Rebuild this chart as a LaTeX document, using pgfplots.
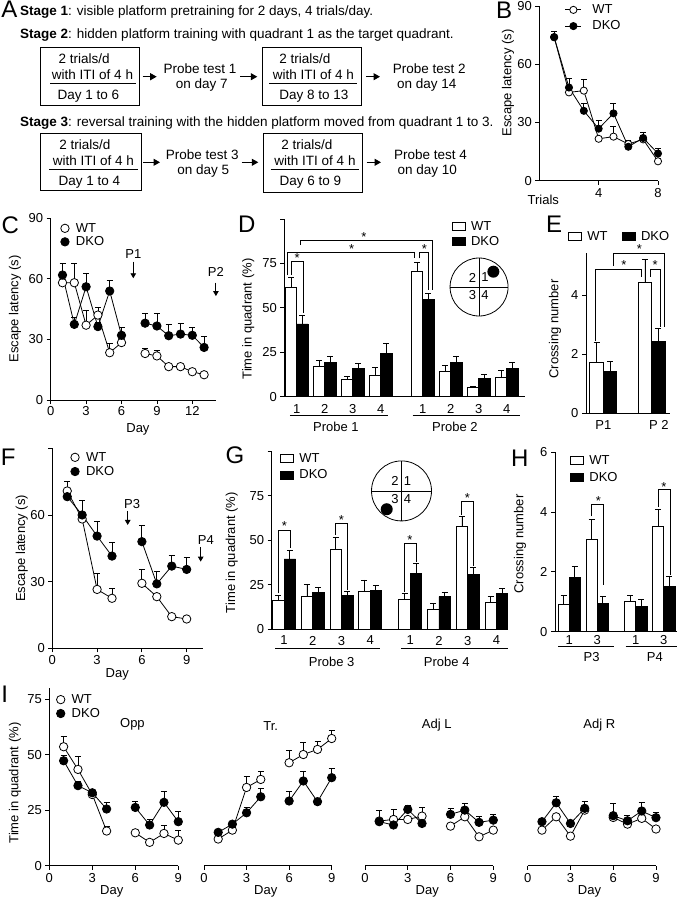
\documentclass[border=0pt]{standalone}
\usepackage{fontspec}
\setmainfont{Liberation Sans}
\usepackage{pgfplots}
\usepackage{pgfplotstable}
\pgfplotsset{compat=1.18}
\usetikzlibrary{arrows.meta}
\newcommand{\fs}[1]{\fontsize{#1}{#1}\selectfont}

% ---- data ----
\pgfplotstableread[row sep=\\]{x y e\\ 1 73.9 0\\ 2 45.5 1\\ 3 46.4 5.6\\ 4 21.6 1\\ 5 22.7 5.1\\ 6 18.9 2.1\\ 7 21.3 2\\ 8 10 1.5\\}\tBwt
\pgfplotstableread[row sep=\\]{x y e\\ 1 74 3\\ 2 48 4.5\\ 3 36 4\\ 4 26.8 4.2\\ 5 34.7 5.1\\ 6 17.5 3\\ 7 22 3\\ 8 14 2.5\\}\tBdko
\pgfplotstableread[row sep=\\]{x y e\\ 1 58 1\\ 2 58 9.6\\ 3 37 7.5\\ 4 42 4\\ 5 23.4 4.6\\ 6 28.4 1\\ 7 nan 0\\ 8 23 2.5\\ 9 21.8 2.9\\ 10 16.5 1\\ 11 16.5 1\\ 12 14 1\\ 13 12.5 1\\}\tCwt
\pgfplotstableread[row sep=\\]{x y e\\ 1 61.8 5.8\\ 2 37.4 3.6\\ 3 56 6.6\\ 4 36.3 2\\ 5 53.9 5.4\\ 6 32 4\\ 7 nan 0\\ 8 38 4.8\\ 9 36.6 6.4\\ 10 31.8 5.8\\ 11 32.6 5.4\\ 12 32 3.8\\ 13 26 5.3\\}\tCdko
\pgfplotstableread[row sep=\\]{x y e\\ 1 70.8 4.2\\ 2 58.2 1\\ 3 26.5 7.2\\ 4 22.5 4.5\\ 5 nan 0\\ 6 29.25 6.25\\ 7 23.25 1.5\\ 8 14.25 1\\ 9 13.2 1\\}\tFwt
\pgfplotstableread[row sep=\\]{x y e\\ 1 68.25 3.75\\ 2 60 6.5\\ 3 50.5 6.5\\ 4 41.5 6\\ 5 nan 0\\ 6 48 7.5\\ 7 29 5.5\\ 8 37 5\\ 9 35.5 5.3\\}\tFdko
\pgfplotstableread[row sep=\\]{x y e\\ 1 53.5 4.5\\ 2 43.3 5.7\\ 3 32 1\\ 4 15.6 2.2\\ 5 nan 0\\ 6 14.8 1\\ 7 10.5 1.5\\ 8 14.5 3.8\\ 9 11.5 4.2\\}\tIoppwt
\pgfplotstableread[row sep=\\]{x y e\\ 1 47.2 2.6\\ 2 36 1.8\\ 3 32.8 1.7\\ 4 25.5 3\\ 5 nan 0\\ 6 26.2 2.6\\ 7 18.3 2.7\\ 8 28.5 4.8\\ 9 19.8 4.5\\}\tIoppdko
\pgfplotstableread[row sep=\\]{x y e\\ 1 12 0.5\\ 2 16 0.5\\ 3 35.2 4.8\\ 4 38.8 3.4\\ 5 nan 0\\ 6 46.3 5.7\\ 7 50 5.3\\ 8 52.3 3.4\\ 9 57.2 3.8\\}\tItrwt
\pgfplotstableread[row sep=\\]{x y e\\ 1 15 0.5\\ 2 18.7 1\\ 3 23.8 2.4\\ 4 31 3.8\\ 5 nan 0\\ 6 29.1 4.5\\ 7 38.1 4.2\\ 8 28.8 1\\ 9 39.6 4.2\\}\tItrdko
\pgfplotstableread[row sep=\\]{x y e\\ 1 20.1 1\\ 2 20.8 4.5\\ 3 20.8 1\\ 4 22.3 3.9\\ 5 nan 0\\ 6 17.8 1\\ 7 22 1\\ 8 13 1\\ 9 16 1\\}\tIalwt
\pgfplotstableread[row sep=\\]{x y e\\ 1 19.8 4.9\\ 2 18.3 1\\ 3 25.3 2\\ 4 19 1\\ 5 nan 0\\ 6 23.1 2.7\\ 7 25 3\\ 8 19.5 2.8\\ 9 20.5 2.6\\}\tIaldko
\pgfplotstableread[row sep=\\]{x y e\\ 1 16 1\\ 2 22 1\\ 3 13.3 1\\ 4 25 1\\ 5 nan 0\\ 6 21.7 1\\ 7 18.7 1\\ 8 21.3 1\\ 9 16.5 1\\}\tIarwt
\pgfplotstableread[row sep=\\]{x y e\\ 1 19.8 1\\ 2 28.3 3\\ 3 19 1\\ 4 25.8 3\\ 5 nan 0\\ 6 22.5 5.5\\ 7 20.2 2.6\\ 8 24.6 3.7\\ 9 21.6 2.2\\}\tIardko

\tikzset{lbl/.style={font=\fs{13}, inner sep=0pt},
  lw/.style={line width=0.8pt},
  parrow/.style={-{Triangle[length=5pt,width=5.5pt]}, line width=0.9pt},
  barrow/.style={-{Triangle[length=6.5pt,width=7pt]}, line width=1.1pt}}

\pgfplotsset{
  base/.style={scale only axis, anchor=south west, enlargelimits=false, clip=false,
    axis line style={line width=0.8pt, black},
    tick style={line width=0.8pt, black},
    tick align=outside, major tick length=4pt,
    tick label style={font=\fs{13}}, label style={font=\fs{13}},
    /pgf/number format/assume math mode=true,
    unbounded coords=jump,
    legend cell align=left,
    legend style={draw=none, fill=none, font=\fs{13}, inner sep=0pt, outer sep=0pt, anchor=north west, nodes={inner sep=0pt}},
  },
  lax/.style={base, axis lines*=left},
  bax/.style={base, axis lines*=left, xtick style={draw=none}},
  iax/.style={base, axis x line*=bottom, axis y line=none, xmin=0, xmax=9, ymin=0, ymax=80, xtick={0,3,6,9}, xlabel={Day}, height=177.9pt},
  ln/.style={black, line width=0.8pt, mark=none},
  wt/.style={only marks, black, mark=*, mark size=4.2pt, mark options={fill=white, line width=0.8pt}},
  dko/.style={only marks, black, mark=*, mark size=4.2pt, mark options={fill=black, line width=0.8pt}},
  eb/.style={error bars/.cd, y dir=plus, y explicit, error bar style={line width=0.8pt, black}, error mark options={rotate=90, mark size=3pt, line width=0.8pt, black}},
  barw/.style={ybar, bar shift=0pt, fill=white, draw=black, line width=0.8pt},
  bark/.style={ybar, bar shift=0pt, fill=black, draw=black, line width=0.8pt},
  legwt/.style={legend image code/.code={\draw[black, line width=0.8pt, fill=white] (6pt,0pt) circle[radius=4.2pt]; \path[draw=none, fill=none] (0pt,0pt) -- (17pt,0pt);}},
  legdko/.style={legend image code/.code={\draw[black, line width=0.8pt, fill=black] (6pt,0pt) circle[radius=4.2pt]; \path[draw=none, fill=none] (0pt,0pt) -- (17pt,0pt);}},
  leglwt/.style={legend image code/.code={\draw[black, line width=0.8pt] (0pt,0pt) -- (16pt,0pt); \draw[black, line width=0.8pt, fill=white] (8pt,0pt) circle[radius=3.6pt]; \path[draw=none, fill=none] (0pt,0pt) -- (27pt,0pt);}},
  legldko/.style={legend image code/.code={\draw[black, line width=0.8pt] (0pt,0pt) -- (16pt,0pt); \draw[black, line width=0.8pt, fill=black] (8pt,0pt) circle[radius=3.6pt]; \path[draw=none, fill=none] (0pt,0pt) -- (27pt,0pt);}},
  legbw/.style={legend image code/.code={\draw[black, line width=0.8pt, fill=white] (0pt,-4pt) rectangle (13pt,4pt); \path[draw=none, fill=none] (0pt,0pt) -- (19pt,0pt);}},
  legbk/.style={legend image code/.code={\draw[black, line width=0.8pt, fill=black] (0pt,-4pt) rectangle (13pt,4pt); \path[draw=none, fill=none] (0pt,0pt) -- (19pt,0pt);}},
}
\newcommand{\sig}[2]{\node[lbl, anchor=base, yshift=-7.4pt] at (axis cs:#1,#2) {*};}
\newcommand{\brk}[5]{\draw[lw] (axis cs:#1,#4) |- (axis cs:#2,#3) -- (axis cs:#2,#5);}
\newcommand{\pair}[2]{%
\addplot[ln, forget plot, eb] table[x=x,y=y,y error=e]{#1};
\addplot[ln, forget plot, eb] table[x=x,y=y,y error=e]{#2};
\addplot[wt, forget plot] table[x=x,y=y]{#1};
\addplot[dko, forget plot] table[x=x,y=y]{#2};}

\begin{document}
\begin{tikzpicture}
\useasboundingbox (0pt,0pt) rectangle (678pt,-900pt);

% ================= Panel A and letters =================
\begin{scope}[x=1pt, y=-1pt, font=\fs{13.5}]
\node[anchor=base west, inner sep=0pt] at (20,15) {\textbf{Stage 1}: visible platform pretraining for 2 days, 4 trials/day.};
\node[anchor=base west, inner sep=0pt] at (20,38.3) {\textbf{Stage 2}: hidden platform training with quadrant 1 as the target quadrant.};
\node[anchor=base west, inner sep=0pt] at (20,126.7) {\textbf{Stage 3}: reversal training with the hidden platform moved from quadrant 1 to 3.};
% row 1
\draw[lw] (40.7,47.7) rectangle (139.3,105.3); \draw[lw] (50,83.3) -- (136,83.3);
\node[anchor=base, inner sep=0pt] at (84.2,63.3) {2 trials/d};
\node[anchor=base, inner sep=0pt] at (92.5,79) {with ITI of 4 h};
\node[anchor=base, inner sep=0pt] at (88.3,99.3) {Day 1 to 6};
\draw[barrow] (142.7,76.7) -- (156.7,76.7);
\node[anchor=base, inner sep=0pt] at (200,73.3) {Probe test 1};
\node[anchor=base, inner sep=0pt] at (201.7,88.3) {on day 7};
\draw[barrow] (240,76.7) -- (257.3,76.7);
\draw[lw] (262.7,47.7) rectangle (361,105.3); \draw[lw] (269.3,83.3) -- (356.7,83.3);
\node[anchor=base, inner sep=0pt] at (305,63.3) {2 trials/d};
\node[anchor=base, inner sep=0pt] at (313.3,79) {with ITI of 4 h};
\node[anchor=base, inner sep=0pt] at (313.8,99.5) {Day 8 to 13};
\draw[barrow] (366,76.7) -- (380,76.7);
\node[anchor=base, inner sep=0pt] at (429.2,73.3) {Probe test 2};
\node[anchor=base, inner sep=0pt] at (426.8,88.3) {on day 14};
% row 2
\draw[lw] (40.7,133.3) rectangle (141.7,190.7); \draw[lw] (49.3,169) -- (137.7,169);
\node[anchor=base, inner sep=0pt] at (85,149) {2 trials/d};
\node[anchor=base, inner sep=0pt] at (93.3,165) {with ITI of 4 h};
\node[anchor=base, inner sep=0pt] at (89.3,185) {Day 1 to 4};
\draw[barrow] (143.3,162.3) -- (160,162.3);
\node[anchor=base, inner sep=0pt] at (202.3,159.3) {Probe test 3};
\node[anchor=base, inner sep=0pt] at (203.3,174.3) {on day 5};
\draw[barrow] (241.7,162.3) -- (258.3,162.3);
\draw[lw] (263.3,133.3) rectangle (362.7,192.3); \draw[lw] (270.7,169) -- (359.3,169);
\node[anchor=base, inner sep=0pt] at (307,149) {2 trials/d};
\node[anchor=base, inner sep=0pt] at (315,165) {with ITI of 4 h};
\node[anchor=base, inner sep=0pt] at (310.5,185) {Day 6 to 9};
\draw[barrow] (366.7,162.3) -- (381,162.3);
\node[anchor=base, inner sep=0pt] at (430.5,159.3) {Probe test 4};
\node[anchor=base, inner sep=0pt] at (427.3,174.3) {on day 10};
% letters
\node[font=\fs{24}, anchor=base, inner sep=0pt] at (9.5,17.3) {A};
\node[font=\fs{24}, anchor=base, inner sep=0pt] at (504,18.3) {B};
\node[font=\fs{24}, anchor=base, inner sep=0pt] at (10.3,233.3) {C};
\node[font=\fs{24}, anchor=base, inner sep=0pt] at (246.7,232.7) {D};
\node[font=\fs{24}, anchor=base, inner sep=0pt] at (554,232) {E};
\node[font=\fs{24}, anchor=base, inner sep=0pt] at (8.3,465) {F};
\node[font=\fs{24}, anchor=base, inner sep=0pt] at (235,463.3) {G};
\node[font=\fs{24}, anchor=base, inner sep=0pt] at (519.7,466.7) {H};
\node[font=\fs{24}, anchor=base, inner sep=0pt] at (4.7,702.7) {I};
\end{scope}

% ================= Panel B =================
\begin{axis}[lax, at={(539.3pt,-180.7pt)}, width=118.7pt, height=174.7pt,
  xmin=0, xmax=8, ymin=0, ymax=90, xtick={4,8}, ytick={0,30,60,90},
  xlabel={Trials}, ylabel={Escape latency (s)},
  xlabel style={at={(axis description cs:0.034,-0.139)}, anchor=base},
  ylabel style={at={(axis description cs:-0.264,0.56)}, anchor=center},
  legend style={at={(0.2165,1.0077)}, row sep=5.7pt}]
\addlegendimage{leglwt}\addlegendentry{WT}
\addlegendimage{legldko}\addlegendentry{DKO}
\addplot[ln, forget plot, eb] table[x=x,y=y,y error=e]{\tBwt};
\addplot[ln, forget plot, eb] table[x=x,y=y,y error=e]{\tBdko};
\addplot[wt, mark size=3.6pt, forget plot] table[x=x,y=y]{\tBwt};
\addplot[dko, mark size=3.6pt, forget plot] table[x=x,y=y]{\tBdko};
\end{axis}

% ================= Panel C =================
\begin{axis}[lax, at={(50.7pt,-400pt)}, width=165.2pt, height=182pt,
  xmin=0, xmax=14, ymin=0, ymax=90, xtick={0,3,6,9,12}, ytick={0,30,60,90},
  xlabel={Day}, ylabel={Escape latency (s)},
  xticklabel style={yshift=1.5pt},
  xlabel style={at={(axis description cs:0.528,-0.18)}, anchor=base},
  ylabel style={at={(axis description cs:-0.216,0.5)}, anchor=center},
  legend style={at={(0.050,0.972)}, row sep=3pt}]
\addlegendimage{legwt}\addlegendentry{WT}
\addlegendimage{legdko}\addlegendentry{DKO}
\pair{\tCwt}{\tCdko}
\node[lbl, anchor=base] at (axis cs:7,70.1) {P1};
\draw[parrow] (axis cs:7,68.4) -- (axis cs:7,60.2);
\node[lbl, anchor=base] at (axis cs:14,61) {P2};
\draw[parrow] (axis cs:14,58) -- (axis cs:14,51.4);
\end{axis}

% ================= Panel D =================
\begin{axis}[bax, at={(284.3pt,-396.7pt)}, width=240.7pt, height=177.8pt,
  xmin=0.557, xmax=9.15, ymin=0, ymax=100,
  xtick={1,2,3,4,5.5,6.5,7.5,8.5}, xticklabels={1,2,3,4,1,2,3,4},
  ytick={0,25,50,75,100}, yticklabels={0,25,50,75,{}},
  ylabel={Time in quadrant (\%)},
  ylabel style={at={(axis description cs:-0.15,0.437)}, anchor=center},
  legend style={at={(0.6955,0.986)}, row sep=4.7pt}]
\addlegendimage{legbw}\addlegendentry{WT}
\addlegendimage{legbk}\addlegendentry{DKO}
\addplot[barw, bar width=11.2pt, forget plot, eb] coordinates {(0.8,61.5) +- (0,5.5) (1.8,16.9) +- (0,3.4) (2.8,9.75) +- (0,1.85) (3.8,12) +- (0,4.5) (5.3,70.7) +- (0,4.9) (6.3,14) +- (0,3.8) (7.3,5) +- (0,1) (8.3,10.9) +- (0,3.7)};
\addplot[bark, bar width=11.2pt, forget plot, eb] coordinates {(1.2,40.9) +- (0,5.1) (2.2,19.1) +- (0,3.8) (3.2,15.9) +- (0,2.85) (4.2,24.4) +- (0,5.6) (5.7,54.75) +- (0,3.25) (6.7,19.3) +- (0,3.6) (7.7,10.3) +- (0,2.45) (8.7,15.9) +- (0,3.4)};
\brk{0.807}{1.236}{76.3}{68.4}{47.2} \sig{1.02}{79.7}
\brk{0.68}{5.19}{81}{68.4}{77.8} \sig{2.96}{84.8}
\brk{1.12}{5.84}{88.1}{85.3}{60} \sig{3.40}{91.5}
\brk{5.38}{5.70}{81}{77.8}{60} \sig{5.56}{84.8}
\draw[lw] (axis cs:0.76,-10.3) -- (axis cs:4.27,-10.3);
\draw[lw] (axis cs:5.14,-10.3) -- (axis cs:8.98,-10.3);
\node[lbl, anchor=base] at (axis cs:2.4,-19.7) {Probe 1};
\node[lbl, anchor=base] at (axis cs:6.65,-19.7) {Probe 2};
\draw[lw] (axis cs:7.51,61.7) circle[radius=29pt];
\draw[lw] (axis cs:7.51,61.7) ++(-29pt,0pt) -- ++(58pt,0pt);
\draw[lw] (axis cs:7.51,61.7) ++(0pt,-29pt) -- ++(0pt,58pt);
\node[lbl, xshift=-6.5pt, yshift=9.5pt] at (axis cs:7.51,61.7) {2};
\node[lbl, xshift=6pt, yshift=9.5pt] at (axis cs:7.51,61.7) {1};
\node[lbl, xshift=-6.5pt, yshift=-8.5pt] at (axis cs:7.51,61.7) {3};
\node[lbl, xshift=6pt, yshift=-8.5pt] at (axis cs:7.51,61.7) {4};
\fill (axis cs:7.51,61.7) ++(14.3pt,15.3pt) circle[radius=6pt];
\end{axis}

% ================= Panel E =================
\begin{axis}[bax, at={(586pt,-413.3pt)}, width=84pt, height=160pt,
  xmin=0.643, xmax=2.378, ymin=0, ymax=5.42,
  xtick={1,2.15}, xticklabels={P1,P 2}, ytick={0,2,4},
  ylabel={Crossing number},
  ylabel style={at={(axis description cs:-0.369,0.527)}, anchor=center},
  legend columns=2,
  legend style={at={(-0.214,1.137)}, /tikz/every even column/.append style={column sep=14pt}}]
\addlegendimage{legbw}\addlegendentry{WT}
\addlegendimage{legbk}\addlegendentry{DKO}
\addplot[barw, bar width=13.6pt, forget plot, eb] coordinates {(0.86,1.72) +- (0,0.68) (1.86,4.45) +- (0,0.77)};
\addplot[bark, bar width=13.6pt, forget plot, eb] coordinates {(1.14,1.42) +- (0,0.33) (2.14,2.44) +- (0,0.42)};
\brk{0.843}{1.779}{4.89}{2.46}{4.63} \sig{1.428}{5.12}
\brk{1.207}{2.26}{5.42}{4.99}{2.94} \sig{1.744}{5.67}
\brk{1.965}{2.17}{4.89}{4.63}{2.94} \sig{2.07}{5.12}
\end{axis}

% ================= Panel F =================
\begin{axis}[lax, at={(52.3pt,-648.3pt)}, width=150.8pt, height=200pt,
  xmin=0, xmax=10.1, ymin=0, ymax=90, xtick={0,3,6,9}, ytick={0,30,60,90}, yticklabels={0,30,60,{}},
  xlabel={Day}, ylabel={Escape latency (s)},
  xlabel style={at={(axis description cs:0.431,-0.147)}, anchor=base},
  ylabel style={at={(axis description cs:-0.203,0.5)}, anchor=center},
  legend style={at={(0.111,0.981)}, row sep=3.7pt}]
\addlegendimage{legwt}\addlegendentry{WT}
\addlegendimage{legdko}\addlegendentry{DKO}
\pair{\tFwt}{\tFdko}
\node[lbl, anchor=base] at (axis cs:5.35,63) {P3};
\draw[parrow] (axis cs:5.05,61.9) -- (axis cs:5.05,55.5);
\node[lbl, anchor=base] at (axis cs:10.28,46.5) {P4};
\draw[parrow] (axis cs:9.94,45.7) -- (axis cs:9.94,39);
\end{axis}

% ================= Panel G =================
\begin{axis}[bax, at={(271.7pt,-629pt)}, width=236.6pt, height=177.7pt,
  xmin=0.571, xmax=8.815, ymin=0, ymax=100,
  xtick={1,2,3,4,5.4,6.4,7.4,8.4}, xticklabels={1,2,3,4,1,2,3,4},
  ytick={0,25,50,75,100}, yticklabels={0,25,50,75,{}},
  xticklabel style={yshift=0.6pt},
  ylabel={Time in quadrant (\%)},
  ylabel style={at={(axis description cs:-0.169,0.43)}, anchor=center},
  legend style={at={(0.035,0.987)}, row sep=5.7pt}]
\addlegendimage{legbw}\addlegendentry{WT}
\addlegendimage{legbk}\addlegendentry{DKO}
\addplot[barw, bar width=11.5pt, forget plot, eb] coordinates {(0.8,15.9) +- (0,2.85) (1.8,18.2) +- (0,6.9) (2.8,44.8) +- (0,6.8) (3.8,21.4) +- (0,6.2) (5.2,16.7) +- (0,3.3) (6.2,11) +- (0,3.4) (7.2,57.9) +- (0,5.3) (8.2,14.8) +- (0,3.4)};
\addplot[bark, bar width=11.5pt, forget plot, eb] coordinates {(1.2,39.4) +- (0,4.6) (2.2,20.8) +- (0,2.6) (3.2,18.9) +- (0,2.1) (4.2,21.6) +- (0,2.8) (5.6,31.3) +- (0,5.6) (6.6,18.2) +- (0,2.4) (7.6,30.9) +- (0,3.8) (8.6,20.1) +- (0,2.8)};
\brk{0.80}{1.21}{55.7}{20.1}{45.4} \sig{1.01}{59.5}
\brk{2.80}{3.21}{59.5}{52.9}{21.9} \sig{3.0}{62.9}
\brk{5.18}{5.60}{48.2}{21}{37.9} \sig{5.39}{51.6}
\brk{7.19}{7.60}{71.6}{64.2}{35.5} \sig{7.39}{75.4}
\draw[lw] (axis cs:0.69,-10.9) -- (axis cs:4.34,-10.9);
\draw[lw] (axis cs:5.07,-10.9) -- (axis cs:8.82,-10.9);
\node[lbl, anchor=base] at (axis cs:2.66,-21.2) {Probe 3};
\node[lbl, anchor=base] at (axis cs:6.67,-21.2) {Probe 4};
\draw[lw] (axis cs:5.094,77.7) circle[radius=30pt];
\draw[lw] (axis cs:5.094,77.7) ++(-30pt,0pt) -- ++(60pt,0pt);
\draw[lw] (axis cs:5.094,77.7) ++(0pt,-30pt) -- ++(0pt,60pt);
\node[lbl, xshift=-6.5pt, yshift=9.5pt] at (axis cs:5.094,77.7) {2};
\node[lbl, xshift=6pt, yshift=9.5pt] at (axis cs:5.094,77.7) {1};
\node[lbl, xshift=-6.5pt, yshift=-8.5pt] at (axis cs:5.094,77.7) {3};
\node[lbl, xshift=6pt, yshift=-8.5pt] at (axis cs:5.094,77.7) {4};
\fill (axis cs:5.094,77.7) ++(-14.8pt,-18.3pt) circle[radius=6pt];
\end{axis}

% ================= Panel H =================
\begin{axis}[bax, at={(555pt,-631.7pt)}, width=121.7pt, height=179.7pt,
  xmin=0.49, xmax=4.84, ymin=0, ymax=6,
  xtick={1,2,3.38,4.38}, xticklabels={1,3,1,3}, ytick={0,2,4,6},
  xticklabel style={yshift=3.8pt},
  ylabel={Crossing number},
  ylabel style={at={(axis description cs:-0.288,0.488)}, anchor=center},
  legend style={at={(0.123,0.981)}, row sep=6.4pt}]
\addlegendimage{legbw}\addlegendentry{WT}
\addlegendimage{legbk}\addlegendentry{DKO}
\addplot[barw, bar width=11.2pt, forget plot, eb] coordinates {(0.8,0.92) +- (0,0.28) (1.8,3.08) +- (0,0.67) (3.18,1.02) +- (0,0.18) (4.18,3.53) +- (0,0.56)};
\addplot[bark, bar width=11.2pt, forget plot, eb] coordinates {(1.2,1.81) +- (0,0.38) (2.2,0.95) +- (0,0.24) (3.58,0.83) +- (0,0.25) (4.58,1.52) +- (0,0.31)};
\brk{1.8}{2.21}{4.24}{3.85}{1.56} \sig{2.04}{4.46}
\brk{4.18}{4.6}{4.74}{4.18}{1.9} \sig{4.38}{4.93}
\draw[lw] (axis cs:0.61,-0.48) -- (axis cs:2.6,-0.48);
\draw[lw] (axis cs:3.01,-0.48) -- (axis cs:4.84,-0.48);
\node[lbl, anchor=base] at (axis cs:1.8,-1.0) {P3};
\node[lbl, anchor=base] at (axis cs:4.06,-1.0) {P4};
\end{axis}

% ================= Panel I =================
\begin{axis}[lax, at={(49.3pt,-865.7pt)}, width=129pt, height=177.9pt,
  xmin=0, xmax=9, ymin=0, ymax=80, xtick={0,3,6,9}, ytick={0,25,50,75},
  xlabel={Day}, ylabel={Time in quadrant (\%)},
  xlabel style={at={(axis description cs:0.484,-0.162)}, anchor=base},
  ylabel style={at={(axis description cs:-0.266,0.465)}, anchor=center},
  legend style={at={(0.042,0.963)}, row sep=3.4pt}]
\addlegendimage{legwt}\addlegendentry{WT}
\addlegendimage{legdko}\addlegendentry{DKO}
\pair{\tIoppwt}{\tIoppdko}
\node[lbl, anchor=base] at (axis cs:5.8,62.2) {Opp};
\end{axis}
\begin{axis}[iax, at={(204pt,-865.7pt)}, width=127.7pt,
  xlabel style={at={(axis description cs:0.484,-0.162)}, anchor=base}]
\pair{\tItrwt}{\tItrdko}
\node[lbl, anchor=base] at (axis cs:4.7,61) {Tr.};
\end{axis}
\begin{axis}[iax, at={(365pt,-865.7pt)}, width=128.3pt,
  xlabel style={at={(axis description cs:0.485,-0.162)}, anchor=base}]
\pair{\tIalwt}{\tIaldko}
\node[lbl, anchor=base] at (axis cs:5.03,61.5) {Adj L};
\end{axis}
\begin{axis}[iax, at={(527.7pt,-865.7pt)}, width=128.3pt,
  xlabel style={at={(axis description cs:0.482,-0.162)}, anchor=base}]
\pair{\tIarwt}{\tIardko}
\node[lbl, anchor=base] at (axis cs:5.02,61.5) {Adj R};
\end{axis}
\end{tikzpicture}
\end{document}
